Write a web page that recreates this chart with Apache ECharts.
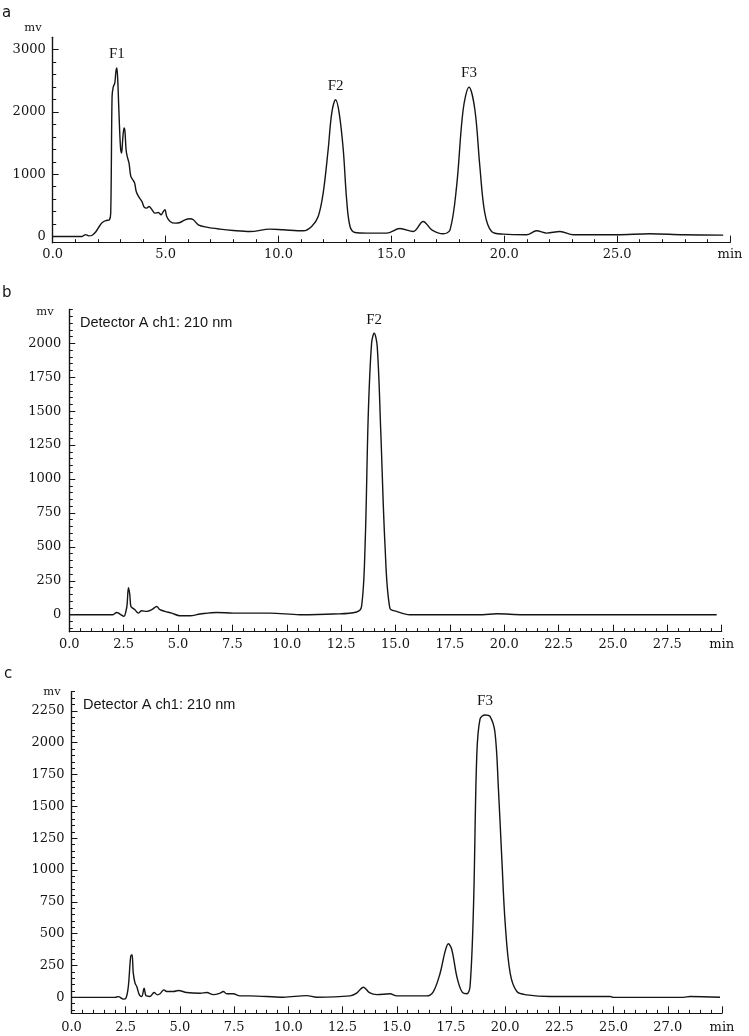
<!DOCTYPE html>
<html>
<head>
<meta charset="utf-8">
<title>Chromatograms</title>
<script src="https://cdn.jsdelivr.net/npm/echarts@6/dist/echarts.min.js"></script>
<style>
html, body { margin: 0; padding: 0; background: #fff; }
#chart { width: 749px; height: 1036px; }
</style>
</head>
<body>
<div id="chart"></div>
<script>
// panel a - retention time (min) and signal (mv)
const timeA = [0, 1.3, 1.45, 1.6, 1.75, 1.92, 2.06, 2.2, 2.38, 2.51, 2.57, 2.63, 2.68, 2.75, 2.8, 2.84, 2.88, 2.93, 3.0, 3.05,
  3.1, 3.16, 3.2, 3.25, 3.3, 3.38, 3.46, 3.55, 3.63, 3.7, 3.8, 3.95, 4.05, 4.16, 4.27, 4.38, 4.53, 4.68, 4.8, 4.9,
  4.97, 5.05, 5.2, 5.42, 5.64, 5.86, 6.08, 6.23, 6.45, 6.82, 7.41, 8.0, 8.74, 9.62, 10.21, 11.1, 11.47, 11.76, 11.98, 12.2,
  12.36, 12.53, 12.69, 12.87, 13.02, 13.17, 13.39, 13.9, 14.79, 15.38, 15.97, 16.41, 16.79, 17.3, 17.6, 17.89, 18.18, 18.44, 18.7, 18.92,
  19.14, 19.44, 19.96, 20.99, 21.43, 21.88, 22.47, 23.06, 24.98, 26.45, 27.93, 29.7];
const mvA = [0, 0, 30, 10, 20, 80, 160, 225, 257, 268, 375, 2250, 2400, 2465, 2650, 2706, 2520, 2036, 1447, 1340,
  1554, 1742, 1690, 1393, 1286, 1179, 965, 911, 857, 723, 643, 563, 472, 455, 482, 440, 375, 386, 348, 402,
  429, 322, 241, 214, 225, 268, 284, 268, 188, 150, 118, 96, 80, 118, 107, 91, 161, 322, 697, 1393,
  1983, 2197, 1983, 1393, 590, 161, 64, 54, 54, 129, 80, 241, 107, 43, 107, 804, 2036, 2400, 2036, 1125,
  375, 80, 37, 27, 91, 54, 80, 27, 27, 43, 27, 21];

// panel b
const timeB = [0, 2.0, 2.18, 2.33, 2.51, 2.62, 2.66, 2.72, 2.78, 2.83, 2.91, 3.02, 3.17, 3.33, 3.56, 3.79, 4.02, 4.17, 4.4, 4.71,
  5.09, 5.55, 6.01, 6.78, 7.54, 8.31, 9.23, 10.6, 12.14, 13.21, 13.44, 13.6, 13.75, 13.9, 14.02, 14.16, 14.32, 14.52, 14.74, 15.05,
  15.66, 19.0, 19.65, 20.87, 29.77];
const mvB = [0, 0, 17, 5, -12, 37, 80, 200, 150, 61, 49, 37, 12, 29, 25, 37, 61, 37, 25, 12,
  -7, -7, 5, 17, 12, 12, 12, 0, 5, 20, 61, 503, 1485, 2000, 2074, 1976, 1362, 503, 49, 25,
  0, 0, 7, 0, 0];

// panel c
const timeC = [0, 2.0, 2.16, 2.39, 2.51, 2.62, 2.73, 2.79, 2.85, 2.93, 3.01, 3.13, 3.24, 3.35, 3.44, 3.62, 3.81, 3.96, 4.08, 4.26,
  4.39, 4.7, 4.93, 5.31, 5.93, 6.24, 6.54, 6.85, 7.0, 7.16, 7.46, 7.77, 8.23, 9.77, 10.85, 11.31, 12.85, 13.15, 13.46, 13.74,
  14.08, 14.69, 15.0, 16.38, 16.69, 17.0, 17.23, 17.38, 17.54, 17.77, 18.0, 18.23, 18.38, 18.54, 18.69, 18.84, 19.07, 19.3, 19.53, 19.69,
  19.84, 20.0, 20.23, 20.54, 21.0, 22.07, 24.84, 24.99, 28.22, 28.53, 29.91];
const mvC = [0, 0, 6, -14, -7, 85, 322, 335, 190, 112, 85, 20, 7, 72, 12, 7, 38, 20, 28, 59,
  46, 46, 54, 38, 33, 38, 22, 33, 46, 28, 28, 12, 12, 1, 14, 1, 12, 33, 80, 38,
  22, 28, 12, 12, 46, 190, 361, 421, 374, 164, 46, 28, 85, 715, 1896, 2185, 2217, 2206, 2080, 1634,
  1109, 584, 190, 46, 20, 7, 7, 0, 0, 7, 1];

// peak names
const peaksA = [{ name: 'F1', t: 2.84, v: 2706 }, { name: 'F2', t: 12.53, v: 2197 }, { name: 'F3', t: 18.44, v: 2400 }];
const peaksB = [{ name: 'F2', t: 14.02, v: 2074 }];
const peaksC = [{ name: 'F3', t: 19.07, v: 2217 }];

// tick labels
const xLabelsA = ['0.0', '5.0', '10.0', '15.0', '20.0', '25.0', 'min'];
const xLabelsB = ['0.0', '2.5', '5.0', '7.5', '10.0', '12.5', '15.0', '17.5', '20.0', '22.5', '25.0', '27.5', 'min'];
const xLabelsC = ['0.0', '2.5', '5.0', '7.5', '10.0', '12.5', '15.0', '17.5', '20.0', '22.5', '25.0', '27.0', 'min'];
const yLabelsA = [0, 1000, 2000, 3000];
const yLabelsB = [0, 250, 500, 750, 1000, 1250, 1500, 1750, 2000];
const yLabelsC = [0, 250, 500, 750, 1000, 1250, 1500, 1750, 2000, 2250];

const INK = '#151515';
const NUM_FONT = 'DejaVu Serif';

function range(from, to, step) {
    const out = [];
    for (let v = from; v <= to + 1e-9; v += step) out.push(Math.round(v));
    return out;
}

const panels = [
    {
        grid: { left: 52.7, top: 37.3, width: 677.3, height: 205.4 },
        yMin: -100, yMax: 3200, xStep: 5,
        xLabels: xLabelsA, yLabels: yLabelsA,
        yTicks: range(0, 3000, 200),
        xMargin: 5, yMargin: 7,
        times: timeA, values: mvA, peaks: peaksA
    },
    {
        grid: { left: 69.3, top: 309.4, width: 652.4, height: 322.3 },
        yMin: -125, yMax: 2250, xStep: 2.5,
        xLabels: xLabelsB, yLabels: yLabelsB,
        yTicks: range(-100, 2250, 50),
        xMargin: 6, yMargin: 8,
        times: timeB, values: mvB, peaks: peaksB
    },
    {
        grid: { left: 71.5, top: 691.7, width: 650.5, height: 321.6 },
        yMin: -125, yMax: 2400, xStep: 2.5,
        xLabels: xLabelsC, yLabels: yLabelsC,
        yTicks: range(-100, 2400, 50),
        xMargin: 8, yMargin: 7,
        times: timeC, values: mvC, peaks: peaksC
    }
];

const axisLine = { show: true, onZero: false, lineStyle: { color: INK, width: 1.2 } };
const tickLine = { color: INK, width: 1 };

const grid = [], xAxis = [], yAxis = [], series = [];
panels.forEach((p, i) => {
    grid.push(Object.assign({ containLabel: false }, p.grid));
    xAxis.push({
        gridIndex: i, type: 'value', position: 'bottom',
        min: 0, max: 30, interval: p.xStep,
        axisLine: axisLine,
        axisTick: { inside: true, length: 7, lineStyle: tickLine },
        minorTick: { show: true, splitNumber: 5, length: 3.5, lineStyle: tickLine },
        splitLine: { show: false },
        axisLabel: {
            margin: p.xMargin, color: INK, fontFamily: NUM_FONT, fontSize: 13,
            showMinLabel: true, showMaxLabel: true,
            formatter: v => p.xLabels[Math.round(v / p.xStep)]
        }
    });
    // all ticks, short
    yAxis.push({
        gridIndex: i, type: 'value', position: 'left',
        min: p.yMin, max: p.yMax,
        axisLine: axisLine,
        axisTick: { show: true, inside: true, length: 3.5, lineStyle: tickLine, customValues: p.yTicks },
        splitLine: { show: false },
        axisLabel: {
            customValues: p.yLabels, margin: p.yMargin, color: INK,
            fontFamily: NUM_FONT, fontSize: 13,
            formatter: v => String(v)
        }
    });
    // labelled ticks, longer
    yAxis.push({
        gridIndex: i, type: 'value', position: 'left',
        min: p.yMin, max: p.yMax,
        axisLine: axisLine,
        axisTick: { show: true, inside: true, length: 6, lineStyle: tickLine, customValues: p.yLabels },
        splitLine: { show: false },
        axisLabel: { show: false, customValues: p.yLabels }
    });
    series.push({
        type: 'line',
        xAxisIndex: i,
        yAxisIndex: i * 2,
        data: p.times.map((t, k) => [t, p.values[k]]),
        showSymbol: false,
        smooth: 0.35,
        lineStyle: { color: INK, width: 1.4 },
        markPoint: {
            symbol: 'circle',
            symbolSize: 0.1,
            itemStyle: { color: 'rgba(0,0,0,0)' },
            label: {
                show: true, position: 'top', distance: 6, formatter: '{b}',
                color: INK, fontFamily: 'Liberation Serif', fontSize: 15
            },
            data: p.peaks.map(pk => ({ name: pk.name, coord: [pk.t, pk.v] }))
        }
    });
});

const txt = (text, x, y, font, align) => ({
    type: 'text', x: x, y: y,
    style: { text: text, font: font, fill: INK, align: align || 'left', verticalAlign: 'middle' }
});

const chart = echarts.init(document.getElementById('chart'));
chart.setOption({
    animation: false,
    backgroundColor: '#fff',
    grid: grid,
    xAxis: xAxis,
    yAxis: yAxis,
    series: series,
    graphic: [
        txt('a', 2, 13, '15px "DejaVu Sans"'),
        txt('b', 2, 293, '15px "DejaVu Sans"'),
        txt('c', 4, 674, '15px "DejaVu Sans"'),
        txt('mv', 33, 28, '11.5px "DejaVu Serif"', 'center'),
        txt('mv', 45, 312, '11.5px "DejaVu Serif"', 'center'),
        txt('mv', 52, 692, '11.5px "DejaVu Serif"', 'center'),
        txt('Detector A ch1: 210 nm', 80, 323, '14.5px "Liberation Sans"'),
        txt('Detector A ch1: 210 nm', 83, 705, '14.5px "Liberation Sans"')
    ]
});
</script>
</body>
</html>
